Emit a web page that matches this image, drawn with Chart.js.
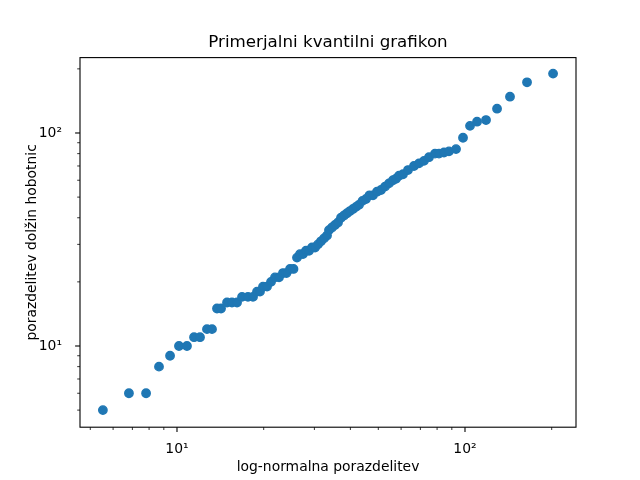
<!DOCTYPE html>
<html>
<head>
<meta charset="utf-8">
<script src="https://cdn.jsdelivr.net/npm/chart.js@4"></script>
<style>
  body { margin: 0; background: #fff; }
  #wrap { width: 640px; height: 480px; }
</style>
</head>
<body>
<div id="wrap"><canvas id="qq" width="640" height="480"></canvas></div>
<script>
// theoretical log-normal quantiles (x) and sorted octopus lengths (y)
const xQuantiles = [
  5.53, 6.81, 7.81, 8.66, 9.46, 10.16, 10.83, 11.46, 12.02, 12.71, 13.23, 13.77, 14.22,
  14.92, 15.52, 16.16, 16.82, 17.64, 18.36, 18.96, 19.42, 19.89, 20.54, 21.21, 21.89, 22.61,
  23.34, 24.00, 24.69, 25.38, 26.10, 26.73, 27.38, 28.05, 28.73, 29.43, 30.15, 30.88, 31.62,
  32.39, 33.18,
  33.71, 34.53, 35.37, 36.23, 37.11, 38.01, 38.94, 39.88, 40.85, 41.85, 42.86, 44.07, 45.32,
  46.61, 47.92,
  49.48, 51.09, 52.75, 54.46, 56.23, 57.60, 59.00, 60.92, 63.40, 66.51, 69.22, 72.05, 74.99,
  78.67, 81.23, 84.55, 87.99, 93.08, 98.42, 104.1, 110.1, 118.3, 129.2, 143.3, 164.2, 202.2
];
const lengths = [
  5, 6, 6, 8, 9, 10, 10, 11, 11, 12, 12, 15, 15,
  16, 16, 16, 17, 17, 17, 18, 18, 19, 19, 20, 21, 21,
  22, 22, 23, 23, 26, 27, 27, 28, 28, 29, 29, 30, 31,
  32, 33,
  35, 36, 37, 38, 40, 41, 42, 43, 44, 45, 46, 48, 49,
  51, 51,
  53, 54, 56, 58, 60, 61, 63, 64, 67, 70, 72, 74, 77,
  80, 80, 81, 82, 84, 95, 108, 113, 115, 130, 148, 173, 190
];

const xTicks = [5, 6, 7, 8, 9, 10, 20, 30, 40, 50, 60, 70, 80, 90, 100, 200];
const yTicks = [5, 6, 7, 8, 9, 10, 20, 30, 40, 50, 60, 70, 80, 90, 100, 200];
const tickLabels = { 10: '10¹', 100: '10²' };

const FONT = 'DejaVu Sans';

// matplotlib style box + major/minor tick marks
const frameTicks = {
  id: 'frameTicks',
  afterDraw(chart) {
    const { ctx, chartArea: a, scales } = chart;
    ctx.save();
    ctx.strokeStyle = '#000';
    ctx.lineWidth = 1.1;
    ctx.strokeRect(a.left, a.top, a.right - a.left, a.bottom - a.top);
    scales.x.ticks.forEach(t => {
      const major = tickLabels[t.value] !== undefined;
      const px = scales.x.getPixelForValue(t.value);
      ctx.lineWidth = major ? 1.1 : 0.8;
      ctx.beginPath();
      ctx.moveTo(px, a.bottom);
      ctx.lineTo(px, a.bottom + (major ? 4.9 : 2.8));
      ctx.stroke();
    });
    scales.y.ticks.forEach(t => {
      const major = tickLabels[t.value] !== undefined;
      const py = scales.y.getPixelForValue(t.value);
      ctx.lineWidth = major ? 1.1 : 0.8;
      ctx.beginPath();
      ctx.moveTo(a.left, py);
      ctx.lineTo(a.left - (major ? 4.9 : 2.8), py);
      ctx.stroke();
    });
    ctx.restore();
  }
};

new Chart(document.getElementById('qq'), {
  type: 'scatter',
  data: {
    datasets: [{
      data: xQuantiles.map((x, i) => ({ x: x, y: lengths[i] })),
      backgroundColor: '#1f77b4',
      borderColor: '#1f77b4',
      borderWidth: 1.4,
      pointRadius: 4.2,
      pointHoverRadius: 4.2
    }]
  },
  options: {
    responsive: false,
    animation: false,
    devicePixelRatio: 1,
    layout: { padding: { left: 16, right: 0, top: 0, bottom: 0 } },
    plugins: {
      legend: { display: false },
      tooltip: { enabled: false },
      title: {
        display: true,
        text: 'Primerjalni kvantilni grafikon',
        color: '#000',
        font: { family: FONT, size: 16.7, weight: 'normal' },
        padding: { top: 33, bottom: 4.56 }
      }
    },
    scales: {
      x: {
        type: 'logarithmic',
        min: 4.605,
        max: 242.9,
        grid: { display: false },
        border: { display: false },
        afterBuildTicks: s => { s.ticks = xTicks.map(v => ({ value: v })); },
        afterFit: s => { s.height = 52.8; },
        ticks: {
          autoSkip: false,
          maxRotation: 0,
          padding: 5.6,
          color: '#000',
          font: { family: FONT, size: 13.9 },
          callback: v => tickLabels[v] || ''
        },
        title: {
          display: true,
          text: 'log-normalna porazdelitev',
          color: '#000',
          font: { family: FONT, size: 13.9 },
          padding: { top: 0, bottom: 4.6 }
        }
      },
      y: {
        type: 'logarithmic',
        min: 4.157,
        max: 225.9,
        grid: { display: false },
        border: { display: false },
        afterBuildTicks: s => { s.ticks = yTicks.map(v => ({ value: v })); },
        afterFit: s => { s.width = 64; },
        ticks: {
          autoSkip: false,
          padding: 10,
          color: '#000',
          font: { family: FONT, size: 13.9 },
          callback: v => tickLabels[v] || ''
        },
        title: {
          display: true,
          text: 'porazdelitev dolžin hobotnic',
          color: '#000',
          font: { family: FONT, size: 13.9 },
          padding: { top: 8, bottom: 0 }
        }
      },
      // empty right-hand axis that only reserves the right margin
      yRight: {
        type: 'linear',
        position: 'right',
        grid: { display: false },
        border: { display: false },
        ticks: { display: false },
        afterFit: s => { s.width = 64; }
      }
    }
  },
  plugins: [frameTicks]
});
</script>
</body>
</html>
